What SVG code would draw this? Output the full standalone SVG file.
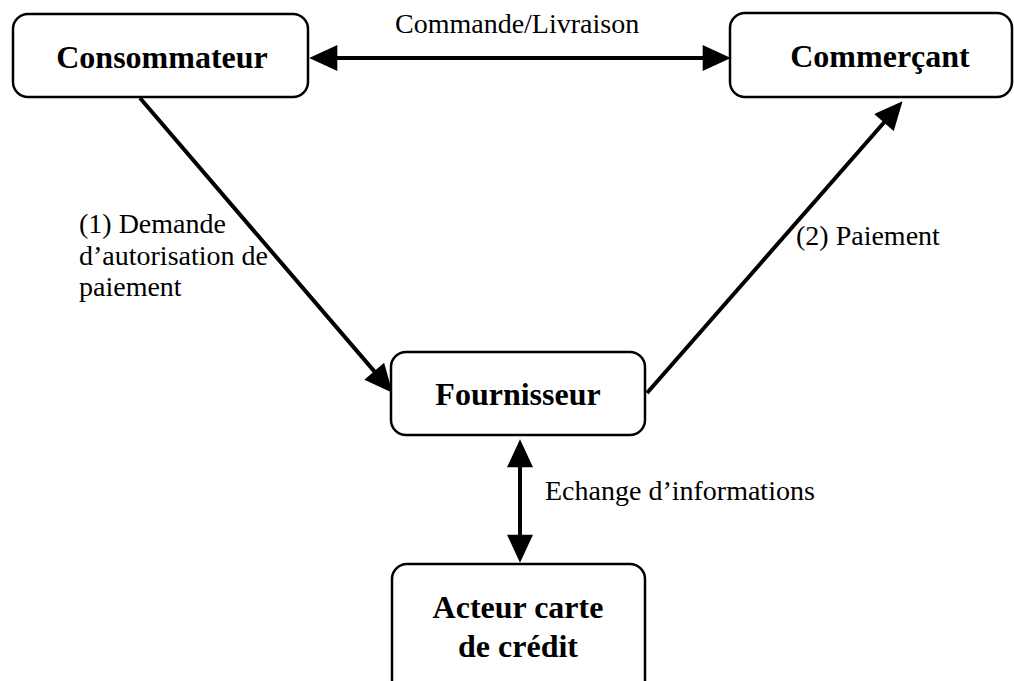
<svg xmlns="http://www.w3.org/2000/svg" width="1014" height="681" viewBox="0 0 1014 681">
<style>
.box{fill:#fff;stroke:#000;stroke-width:2.5}
.nt{font-family:"Liberation Serif","Times New Roman",serif;font-weight:bold;font-size:32px;fill:#000;text-anchor:middle}
.lt{font-family:"Liberation Serif","Times New Roman",serif;font-size:28px;fill:#000}
.ln{stroke:#000;stroke-width:4;fill:none}
</style>
<defs>
<marker id="ah" markerUnits="userSpaceOnUse" markerWidth="30" markerHeight="26" viewBox="0 0 26 24" refX="16" refY="12" orient="auto-start-reverse">
<path d="M0,0 L26,12 L0,24 z" fill="#000"/>
</marker>
</defs>
<rect width="1014" height="681" fill="#fff"/>
<g id="connectors">
<line class="ln" x1="320" y1="58" x2="720" y2="58" marker-start="url(#ah)" marker-end="url(#ah)"/>
<line class="ln" x1="140" y1="98" x2="385.5" y2="384.4" marker-end="url(#ah)"/>
<line class="ln" x1="647" y1="393" x2="895.4" y2="109.5" marker-end="url(#ah)"/>
<line class="ln" x1="520" y1="450" x2="520" y2="552" marker-start="url(#ah)" marker-end="url(#ah)"/>
<text class="lt" x="395" y="33">Commande/Livraison</text>
<text class="lt" x="79" y="233">(1) Demande</text>
<text class="lt" x="79" y="265">d’autorisation de</text>
<text class="lt" x="79" y="296">paiement</text>
<text class="lt" x="796" y="245">(2) Paiement</text>
<text class="lt" x="545" y="500">Echange d’informations</text>
</g>
<g id="consommateur">
<rect class="box" x="13" y="14" width="295" height="83" rx="15"/>
<text class="nt" x="162" y="68">Consommateur</text>
</g>
<g id="commercant">
<rect class="box" x="730" y="13" width="282" height="84" rx="15"/>
<text class="nt" x="880" y="67">Commerçant</text>
</g>
<g id="fournisseur">
<rect class="box" x="391" y="352" width="254" height="83" rx="15"/>
<text class="nt" x="518" y="405">Fournisseur</text>
</g>
<g id="acteur">
<rect class="box" x="392" y="564" width="253" height="140" rx="15"/>
<text class="nt" x="518" y="618">Acteur carte</text>
<text class="nt" x="518" y="657">de crédit</text>
</g>
</svg>
